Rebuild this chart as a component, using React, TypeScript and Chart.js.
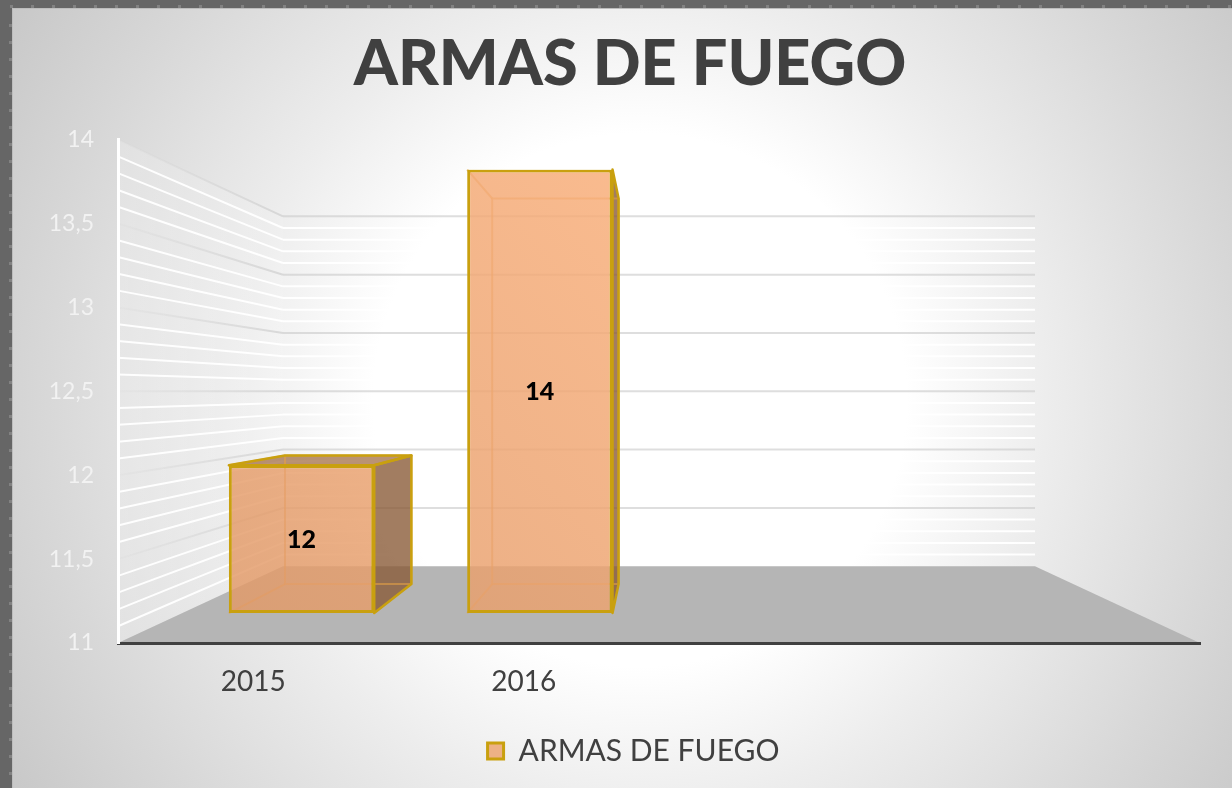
import React, { useEffect, useRef } from "react";
import { Chart, registerables } from "chart.js";

Chart.register(...registerables);

const categories = ["2015", "2016", "", ""];
const seriesName = "ARMAS DE FUEGO";
const seriesValues = [12, 14, null, null];
const axisMin = 11;
const axisMax = 14;
const majorStep = 0.5;
const minorStep = 0.1;

const FONT = "Lato, 'Noto Sans', sans-serif";
const WALL_DEPTH = 0.305;
const BAR_FRONT = 0.119;
const BAR_BACK = 0.234;
const GOLD = "#c9a00f";

function project(area: any, x: number, y: number, t: number): [number, number] {
  const vx = (area.left + area.right) / 2;
  const vy = (area.top + area.bottom) / 2;
  return [x + (vx - x) * t, y + (vy - y) * t];
}

function poly(ctx: CanvasRenderingContext2D, pts: [number, number][]) {
  ctx.beginPath();
  pts.forEach((p, i) => (i ? ctx.lineTo(p[0], p[1]) : ctx.moveTo(p[0], p[1])));
  ctx.closePath();
}

function line(ctx: CanvasRenderingContext2D, a: [number, number], b: [number, number]) {
  ctx.beginPath();
  ctx.moveTo(a[0], a[1]);
  ctx.lineTo(b[0], b[1]);
  ctx.stroke();
}

const roomPlugin = {
  id: "room",
  afterLayout(chart: any) {
    // centre the title and legend on the reference's optical centre
    if (chart.titleBlock) chart.titleBlock.left = 60;
    if (chart.legend) chart.legend.left = 67;
  },
  beforeDraw(chart: any) {
    const { ctx, width, height, chartArea: a, scales } = chart;
    ctx.save();
    // slide background
    const g = ctx.createRadialGradient(640, 400, 0, 640, 400, 740);
    g.addColorStop(0, "#ffffff");
    g.addColorStop(0.36, "#ffffff");
    g.addColorStop(0.55, "#ededed");
    g.addColorStop(0.8, "#d8d8d8");
    g.addColorStop(1, "#c8c8c8");
    ctx.fillStyle = g;
    ctx.fillRect(0, 0, width, height);

    // window frame
    ctx.fillStyle = "#666666";
    ctx.fillRect(0, 0, width, 8);
    ctx.fillRect(0, 0, 12, height);
    ctx.fillStyle = "#828282";
    for (let x = 10; x < width; x += 21) ctx.fillRect(x, 5, 3, 3);
    for (let y = 24; y < height; y += 17) ctx.fillRect(9, y, 3, 3);
    ctx.fillStyle = "#bdbdbd";
    ctx.fillRect(12, 8, width - 12, 1);
    ctx.fillRect(12, 8, 1, height - 8);

    const tl: [number, number] = [a.left, a.top];
    const bl: [number, number] = [a.left, a.bottom];
    const br: [number, number] = [a.right, a.bottom];
    const btl = project(a, a.left, a.top, WALL_DEPTH);
    const bbl = project(a, a.left, a.bottom, WALL_DEPTH);
    const bbr = project(a, a.right, a.bottom, WALL_DEPTH);

    // left wall
    const wall = ctx.createLinearGradient(a.left, 0, btl[0] + 60, 0);
    wall.addColorStop(0, "rgba(255,255,255,0.22)");
    wall.addColorStop(1, "rgba(255,255,255,0)");
    ctx.fillStyle = wall;
    poly(ctx, [tl, btl, bbl, bl]);
    ctx.fill();

    // floor
    ctx.fillStyle = "#b5b5b5";
    poly(ctx, [bl, bbl, bbr, br]);
    ctx.fill();

    // grid lines
    const y = scales.y;
    const nMinor = Math.round((axisMax - axisMin) / minorStep);
    const majorEvery = Math.round(majorStep / minorStep);
    ctx.lineWidth = 2;
    ctx.lineCap = "butt";
    ctx.lineJoin = "round";
    for (let i = nMinor; i > 0; i--) {
      const v = axisMin + i * minorStep;
      const py = y.getPixelForValue(v);
      const front: [number, number] = [a.left, py];
      const corner = project(a, a.left, py, WALL_DEPTH);
      const end = project(a, a.right, py, WALL_DEPTH);
      if (i % majorEvery === 0) {
        const fade = ctx.createLinearGradient(a.left, 0, corner[0], 0);
        fade.addColorStop(0, "rgba(205,205,205,0.1)");
        fade.addColorStop(1, "rgba(205,205,205,0.7)");
        ctx.strokeStyle = fade;
        line(ctx, front, corner);
        ctx.strokeStyle = "rgba(205,205,205,0.65)";
        line(ctx, corner, end);
      } else {
        ctx.strokeStyle = "rgba(255,255,255,0.95)";
        line(ctx, front, corner);
        line(ctx, corner, end);
      }
    }
    ctx.restore();
  },
  beforeDatasetDraw(chart: any, args: any) {
    const { ctx, chartArea: a } = chart;
    const meta = chart.getDatasetMeta(args.index);
    ctx.save();
    ctx.lineJoin = "round";
    meta.data.forEach((bar: any, i: number) => {
      const v = chart.data.datasets[args.index].data[i];
      if (v == null) return;
      const l = bar.x - bar.width / 2;
      const r = bar.x + bar.width / 2;
      const fTR = project(a, r, bar.y, BAR_FRONT);
      const fBR = project(a, r, bar.base, BAR_FRONT);
      const fTL = project(a, l, bar.y, BAR_FRONT);
      const fBL = project(a, l, bar.base, BAR_FRONT);
      const bTR = project(a, r, bar.y, BAR_BACK);
      const bBR = project(a, r, bar.base, BAR_BACK);
      const bTL = project(a, l, bar.y, BAR_BACK);
      const bBL = project(a, l, bar.base, BAR_BACK);
      // outer faces
      if (bTR[0] > fTR[0]) {
        ctx.fillStyle = "rgba(136,88,52,0.78)";
        poly(ctx, [fTR, bTR, bBR, fBR]);
        ctx.fill();
      }
      if (bTR[1] < fTR[1]) {
        ctx.fillStyle = "rgba(160,105,62,0.72)";
        poly(ctx, [fTL, bTL, bTR, fTR]);
        ctx.fill();
      }
      // rear edges seen through the box
      ctx.lineWidth = 2;
      ctx.strokeStyle = "rgba(226,160,70,0.6)";
      poly(ctx, [bTL, bTR, bBR, bBL]);
      ctx.stroke();
      line(ctx, fBL, bBL);
      line(ctx, fTL, bTL);
      // gold edges of the outer faces
      ctx.strokeStyle = GOLD;
      if (bTR[0] > fTR[0]) {
        ctx.lineWidth = 2.5;
        poly(ctx, [fTR, bTR, bBR, fBR]);
        ctx.stroke();
      }
      if (bTR[1] < fTR[1]) {
        ctx.lineWidth = 2.5;
        poly(ctx, [fTL, bTL, bTR, fTR]);
        ctx.stroke();
      }
    });
    // the front face is the library's own bar, moved onto its plane
    const vx = (a.left + a.right) / 2;
    const vy = (a.top + a.bottom) / 2;
    const s = 1 - BAR_FRONT;
    ctx.translate(vx, vy);
    ctx.scale(s, s);
    ctx.translate(-vx, -vy);
  },
  afterDatasetDraw(chart: any) {
    chart.ctx.restore();
  },
  afterDatasetsDraw(chart: any) {
    const { ctx, chartArea: a } = chart;
    const meta = chart.getDatasetMeta(0);
    ctx.save();
    ctx.fillStyle = "#000000";
    ctx.font = `900 25px ${FONT}`;
    ctx.textAlign = "center";
    ctx.textBaseline = "middle";
    meta.data.forEach((bar: any, i: number) => {
      const v = seriesValues[i];
      if (v == null) return;
      const p = project(a, bar.x, (bar.y + bar.base) / 2, BAR_FRONT);
      ctx.fillText(String(v), p[0], p[1] + 1);
    });
    ctx.restore();
  },
};

export default function App() {
  const ref = useRef<HTMLCanvasElement>(null);
  useEffect(() => {
    document.body.style.margin = "0";
    document.body.style.overflow = "hidden";
    const chart = new Chart(ref.current!, {
      type: "bar",
      data: {
        labels: categories,
        datasets: [
          {
            label: seriesName,
            data: seriesValues,
            base: axisMin,
            backgroundColor: (c: any) => {
              const a = c.chart.chartArea;
              if (!a) return "rgba(234,161,111,0.8)";
              const g = c.chart.ctx.createLinearGradient(a.left, a.bottom, a.left + 560, a.top);
              g.addColorStop(0, "rgba(224,152,102,0.82)");
              g.addColorStop(1, "rgba(250,175,122,0.84)");
              return g;
            },
            borderColor: GOLD,
            borderWidth: 3.4,
            borderSkipped: false,
            barPercentage: 0.61,
            categoryPercentage: 1,
          },
        ],
      },
      options: {
        responsive: false,
        animation: false,
        layout: { padding: { left: 40, right: 32, top: 0, bottom: 12 } },
        plugins: {
          tooltip: { enabled: false },
          title: {
            display: true,
            text: "ARMAS DE FUEGO",
            color: "#404040",
            font: { family: FONT, size: 63, weight: "900" },
            padding: { top: 27, bottom: 37 },
          },
          legend: {
            position: "bottom",
            labels: {
              boxWidth: 16,
              boxHeight: 16,
              padding: 10,
              color: "#404040",
              font: { family: FONT, size: 30 },
              generateLabels: (chart: any) =>
                Chart.defaults.plugins.legend.labels.generateLabels(chart).map((it: any) => ({
                  ...it,
                  fillStyle: "#edb185",
                  strokeStyle: GOLD,
                  lineWidth: 3,
                })),
            },
          },
        },
        scales: {
          x: {
            grid: { display: false },
            border: { display: true, color: "#404040", width: 3 },
            ticks: { color: "#404040", font: { family: FONT, size: 28 }, padding: 14, maxRotation: 0 },
            afterFit: (s: any) => {
              s.height = 83;
            },
          },
          y: {
            min: axisMin,
            max: axisMax,
            grid: { display: false },
            border: { display: true, color: "#ffffff", width: 3 },
            ticks: {
              stepSize: majorStep,
              color: "#f2f2f2",
              padding: 16,
              font: { family: FONT, size: 23 },
              callback: (v: any) => String(v).replace(".", ","),
            },
            afterFit: (s: any) => {
              s.width = 78;
            },
          },
        },
      },
      plugins: [roomPlugin],
    } as any);
    return () => chart.destroy();
  }, []);
  return <canvas ref={ref} width={1232} height={788} style={{ display: "block" }} />;
}
